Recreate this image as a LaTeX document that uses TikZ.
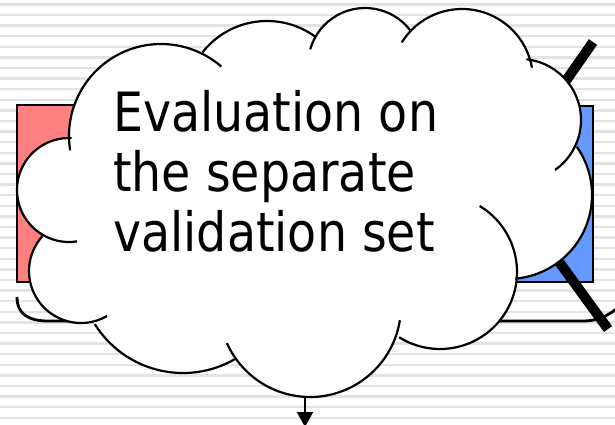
\documentclass[tikz,border=0pt]{standalone}
\usepackage{fontspec}
\setmainfont{DejaVu Sans}
\usetikzlibrary{arrows.meta}
\definecolor{trainred}{RGB}{255,128,128}
\definecolor{validblue}{RGB}{102,153,255}
\tikzset{
  stripe/.style={gray!22, line width=2.4pt},
  slab/.style={draw=black, line width=1.6pt},
  puff/.style={draw=black, line width=2.2pt},
  bracket/.style={draw=black, line width=2.8pt},
  cross/.style={draw=black, line width=10pt},
}
\begin{document}
\begin{tikzpicture}[x=1pt,y=-1pt]
  \useasboundingbox (0,0) rectangle (615,424);
  \foreach \k in {0,...,39}
    \draw[stripe] (0,4.3+10.6*\k) -- (615,4.3+10.6*\k);
  \draw[slab, fill=trainred] (17,105) rectangle (200,282);
  \draw[slab, fill=validblue] (420,106) rectangle (593,282);
  \draw[bracket] (17,297) .. controls (17,315) and (30,321) .. (48,321) -- (300,321);
  \draw[bracket] (300,321) -- (583,321) .. controls (598,321) and (608,316) .. (620,306);
  \draw[cross] (593,42) -- (498,178) -- (608,329);
  % cloud: lobes as circles, centre/radius/start/end
  \foreach \cx/\cy/\r in {161/136/92, 267/103/82, 365/65/57, 462/80/71,
      520/120/61, 508/195/84, 440/272/77, 310/306/91, 183/269/104,
      81/271/52, 69/190/52}
    \fill[white] (\cx,\cy) circle[radius=\r];
  \fill[white] (161,136) -- (267,103) -- (365,65) -- (462,80) -- (520,120)
    -- (508,195) -- (440,272) -- (310,306) -- (183,269) -- (81,271)
    -- (69,190) -- cycle;
  \foreach \cx/\cy/\r/\a/\b in {161/136/92/171/311, 267/103/82/218/306,
      365/65/57/196/324, 462/80/71/212/350, 520/120/61/276/415,
      508/195/84/325/445, 440/272/77/301/482, 310/306/91/9/156,
      183/269/104/60/148, 81/271/52/60/222, 69/190/52/81/273}
    \draw[puff] (\cx,\cy) ++(\a:\r) arc[start angle=\a, end angle=\b, radius=\r];
  \node[anchor=base west, inner sep=0pt] (caption) at (113,131.7)
    {\scalebox{1}[1.14]{\fontsize{47.5}{52.6}\selectfont
      \begin{tabular}[t]{@{}l@{}}Evaluation on\\the separate\\validation set\end{tabular}}};
  \coordinate (cloudfoot) at (305,397);
  \coordinate (exit) at (305,427);
  \draw[-{Triangle[width=16pt,length=15pt]}, line width=2pt] (cloudfoot) -- (exit);
\end{tikzpicture}
\end{document}
